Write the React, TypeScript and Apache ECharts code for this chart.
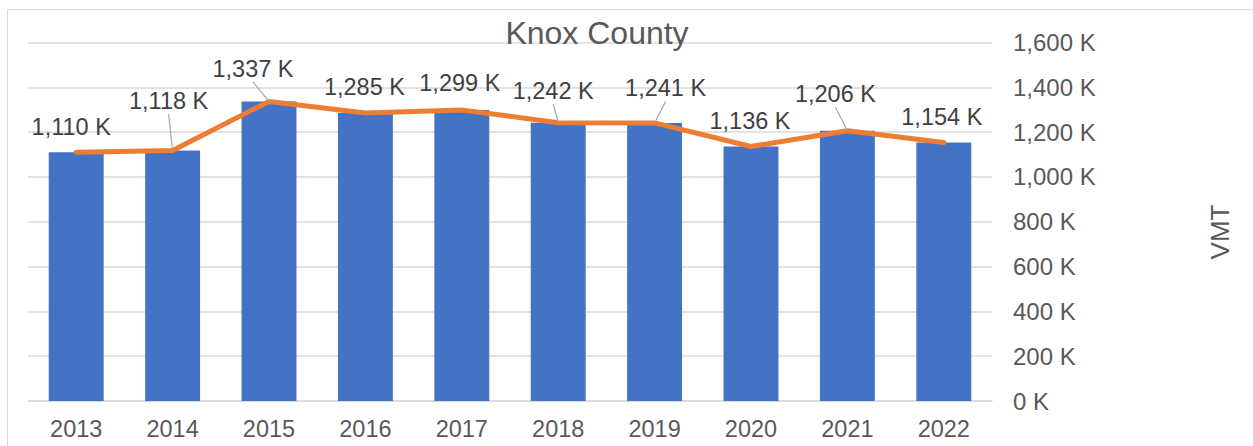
import React, { useEffect, useRef } from "react";
import * as echarts from "echarts";

const years = ["2013", "2014", "2015", "2016", "2017", "2018", "2019", "2020", "2021", "2022"];
const vmtBars = [1110, 1118, 1337, 1285, 1299, 1242, 1241, 1136, 1206, 1154];
const vmtLine = [1110, 1118, 1337, 1285, 1299, 1242, 1241, 1136, 1206, 1154];
const leaderShown = [false, true, true, false, false, true, true, false, true, false];
// label centre offsets from the point (layout only)
const labelDx = [-5, -4, -16, -1, -2, -5, 11, -1, -12, -2];
const labelDy = [-25, -49, -32, -26, -26, -31, -34, -25, -36, -25];

const FONT = "'Liberation Sans', Arial, sans-serif";
const TXT = "#595959";

export default function App() {
  const ref = useRef<HTMLDivElement>(null);
  useEffect(() => {
    if (!ref.current) return;
    const chart = echarts.init(ref.current, undefined, { renderer: "svg" });
    const LH = 26;
    chart.setOption({
      animation: false,
      textStyle: { fontFamily: FONT },
      grid: { left: 28, right: 261, top: 42.5, bottom: 45, containLabel: false },
      graphic: [
        { type: "rect", shape: { x: 7.5, y: 9.5, width: 1260, height: 460 }, style: { fill: "none", stroke: "#d9d9d9", lineWidth: 1 }, silent: true },
        { type: "text", x: 597, y: 33, style: { text: "Knox County", fontSize: 32, fontFamily: FONT, fill: TXT, align: "center", verticalAlign: "middle" }, z: 10 },
        { type: "text", x: 1220, y: 232, rotation: Math.PI / 2, style: { text: "VMT", fontSize: 26, fontFamily: FONT, fill: TXT, align: "center", verticalAlign: "middle" } },
      ],
      xAxis: {
        type: "category",
        data: years,
        axisTick: { show: false },
        axisLine: { show: true, lineStyle: { color: "#d9d9d9", width: 1.5 } },
        axisLabel: { color: TXT, fontSize: 23.5, margin: 16, fontFamily: FONT },
      },
      yAxis: {
        type: "value",
        position: "right",
        min: 0,
        max: 1600,
        interval: 200,
        axisLine: { show: false },
        axisTick: { show: false },
        splitLine: { lineStyle: { color: "#d9d9d9", width: 1.5 } },
        axisLabel: {
          color: TXT,
          fontSize: 24,
          margin: 21,
          fontFamily: FONT,
          formatter: (v: number) => v.toLocaleString("en-US") + " K",
        },
      },
      series: [
        {
          type: "bar",
          data: vmtBars,
          barWidth: "57%",
          itemStyle: { color: "#4472C4" },
          z: 2,
        },
        {
          type: "line",
          data: vmtLine.map((v, i) => ({
            value: v,
            labelLine: { show: leaderShown[i] },
          })),
          symbol: "circle",
          symbolSize: 1,
          showSymbol: true,
          itemStyle: { color: "rgba(0,0,0,0)", borderWidth: 0 },
          lineStyle: { color: "#ED7D31", width: 5, cap: "round", join: "round" },
          z: 3,
          label: {
            show: true,
            position: "top",
            distance: 0,
            fontSize: 23.5,
            lineHeight: LH,
            color: "#404040",
            fontFamily: FONT,
            formatter: (p: any) => Number(p.value).toLocaleString("en-US") + " K",
          },
          labelLine: { show: false, lineStyle: { color: "#a6a6a6", width: 1.2 } },
          labelLayout: (p: any) => ({
            dx: labelDx[p.dataIndex],
            dy: labelDy[p.dataIndex] + LH / 2,
          }),
        },
      ],
    });
    return () => chart.dispose();
  }, []);
  return (
    <div
      ref={ref}
      style={{ position: "fixed", left: 0, top: 0, width: 1253, height: 446, background: "#fff" }}
    />
  );
}
